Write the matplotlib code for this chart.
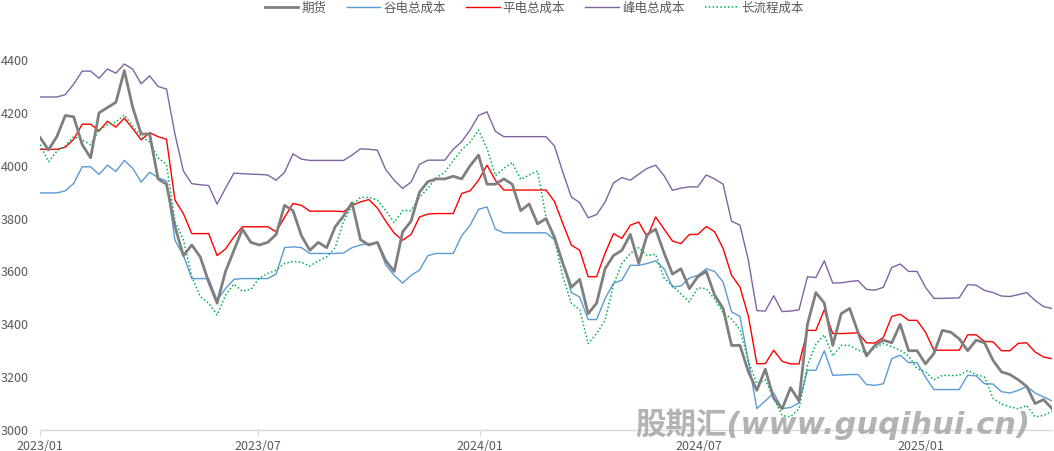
import matplotlib
matplotlib.use('Agg')
import matplotlib.pyplot as plt
import matplotlib.dates as mdates
import pandas as pd

plt.rcParams['font.family'] = ['Noto Sans CJK SC', 'DejaVu Sans']

# weekly samples
dates = pd.date_range('2023-01-01', periods=121, freq='7D')

futures = [4107, 4060, 4110, 4190, 4185, 4080, 4030, 4200, 4220, 4240,
           4360, 4220, 4120, 4120, 3950, 3930, 3770, 3660, 3700, 3655,
           3560, 3480, 3600, 3680, 3760, 3710, 3700, 3710, 3740, 3850,
           3830, 3735, 3680, 3710, 3690, 3769, 3810, 3860, 3720, 3700,
           3710, 3640, 3600, 3750, 3790, 3900, 3940, 3950, 3950, 3960,
           3950, 4000, 4040, 3930, 3930, 3950, 3930, 3830, 3855, 3780,
           3800, 3730, 3630, 3540, 3570, 3440, 3480, 3610, 3660, 3680,
           3740, 3630, 3740, 3760, 3670, 3590, 3610, 3535, 3580, 3600,
           3510, 3460, 3320, 3320, 3220, 3150, 3230, 3120, 3080, 3160,
           3110, 3400, 3520, 3480, 3320, 3440, 3460, 3370, 3280, 3320,
           3340, 3330, 3400, 3300, 3300, 3250, 3290, 3377, 3370, 3345,
           3300, 3340, 3330, 3264, 3220, 3210, 3190, 3165, 3100, 3115,
           3081]

valley_cost = [3897, 3897, 3897, 3905, 3933, 3996, 3996, 3967, 4002, 3978,
               4020, 3990, 3938, 3975, 3955, 3942, 3718, 3661, 3573, 3573,
               3573, 3491, 3535, 3570, 3573, 3573, 3573, 3573, 3590, 3690,
               3693, 3690, 3668, 3668, 3668, 3668, 3670, 3690, 3700, 3706,
               3706, 3625, 3585, 3556, 3585, 3605, 3660, 3668, 3668, 3668,
               3735, 3775, 3835, 3844, 3760, 3746, 3746, 3746, 3746, 3746,
               3746, 3720, 3635, 3520, 3503, 3418, 3418, 3497, 3555, 3567,
               3623, 3623, 3630, 3640, 3610, 3541, 3545, 3575, 3585, 3610,
               3600, 3560, 3447, 3430, 3260, 3081, 3110, 3140, 3081, 3085,
               3103, 3226, 3226, 3300, 3207, 3208, 3210, 3210, 3172, 3169,
               3175, 3270, 3283, 3255, 3255, 3200, 3153, 3153, 3153, 3153,
               3207, 3205, 3175, 3174, 3145, 3140, 3150, 3165, 3140, 3125,
               3110]

flat_cost = [4062, 4062, 4062, 4070, 4100, 4157, 4157, 4132, 4168, 4146,
             4180, 4140, 4098, 4125, 4110, 4100, 3870, 3819, 3743, 3743,
             3743, 3660, 3685, 3731, 3769, 3769, 3769, 3769, 3750, 3805,
             3857, 3850, 3828, 3828, 3828, 3828, 3826, 3850, 3863, 3872,
             3840, 3790, 3745, 3718, 3740, 3806, 3817, 3819, 3819, 3819,
             3895, 3905, 3945, 4002, 3945, 3908, 3908, 3908, 3908, 3908,
             3908, 3865, 3781, 3700, 3680, 3580, 3580, 3668, 3743, 3725,
             3775, 3787, 3730, 3806, 3760, 3715, 3705, 3740, 3740, 3770,
             3750, 3687, 3586, 3541, 3430, 3251, 3251, 3302, 3260, 3250,
             3250, 3377, 3377, 3455, 3365, 3365, 3366, 3368, 3330, 3329,
             3350, 3430, 3438, 3415, 3415, 3370, 3302, 3302, 3302, 3302,
             3360, 3360, 3335, 3334, 3300, 3300, 3328, 3330, 3295, 3276,
             3270]

peak_cost = [4260, 4260, 4260, 4269, 4309, 4358, 4358, 4331, 4366, 4350,
             4385, 4365, 4310, 4340, 4300, 4290, 4120, 3980, 3932, 3928,
             3925, 3855, 3915, 3972, 3970, 3968, 3967, 3965, 3945, 3975,
             4045, 4025, 4020, 4020, 4020, 4020, 4020, 4040, 4064, 4062,
             4059, 3985, 3945, 3914, 3938, 4005, 4021, 4021, 4021, 4062,
             4091, 4135, 4190, 4204, 4130, 4110, 4110, 4110, 4110, 4110,
             4110, 4075, 3975, 3882, 3860, 3803, 3815, 3862, 3935, 3955,
             3945, 3968, 3990, 4002, 3962, 3907, 3915, 3920, 3920, 3965,
             3950, 3930, 3790, 3775, 3642, 3452, 3450, 3508, 3448, 3450,
             3455, 3580, 3577, 3640, 3556, 3557, 3562, 3565, 3532, 3529,
             3540, 3615, 3628, 3600, 3600, 3540, 3498, 3498, 3499, 3500,
             3550, 3548, 3528, 3520, 3507, 3505, 3512, 3520, 3490, 3467,
             3460]

long_process = [4080, 4015, 4055, 4075, 4110, 4097, 4080, 4135, 4155, 4165,
                4192, 4150, 4110, 4090, 4030, 4005, 3790, 3720, 3580, 3505,
                3480, 3435, 3510, 3552, 3525, 3532, 3575, 3592, 3605, 3630,
                3638, 3635, 3620, 3640, 3655, 3690, 3790, 3850, 3880, 3880,
                3870, 3830, 3785, 3830, 3830, 3880, 3915, 3955, 3975, 4020,
                4060, 4090, 4135, 4065, 3962, 3990, 4012, 3948, 3965, 3980,
                3805, 3720, 3580, 3480, 3455, 3327, 3365, 3415, 3550, 3630,
                3668, 3690, 3660, 3665, 3575, 3545, 3515, 3485, 3538, 3535,
                3495, 3445, 3420, 3380, 3260, 3175, 3190, 3120, 3055, 3050,
                3080, 3245, 3325, 3360, 3280, 3320, 3320, 3302, 3292, 3310,
                3327, 3315, 3302, 3280, 3232, 3220, 3190, 3207, 3206, 3207,
                3225, 3210, 3200, 3120, 3098, 3088, 3080, 3093, 3050, 3055,
                3070]

labels = ['期货', '谷电总成本', '平电总成本', '峰电总成本', '长流程成本']
xticks = ['2023-01-01', '2023-07-01', '2024-01-01', '2024-07-01', '2025-01-01']

TXT = '#595959'

fig = plt.figure(figsize=(10.54, 4.51), dpi=100)
ax = fig.add_axes([40 / 1054, 21 / 451, 1012 / 1054, 370 / 451])

ax.plot(dates, futures, color='#7F7F7F', lw=2.0, label=labels[0], zorder=5)
ax.plot(dates, valley_cost, color='#5B9BD5', lw=1.0, label=labels[1], zorder=3)
ax.plot(dates, flat_cost, color='#FF0000', lw=1.0, label=labels[2], zorder=3)
ax.plot(dates, peak_cost, color='#8064A2', lw=1.0, label=labels[3], zorder=3)
ax.plot(dates, long_process, color='#00B050', lw=1.1, ls=(0, (1, 1.5)),
        label=labels[4], zorder=4)

ax.set_xlim(dates[0], dates[-1])
ax.set_ylim(3000, 4400)
ax.set_yticks(range(3000, 4401, 200))
ax.set_xticks(pd.to_datetime(xticks))
ax.xaxis.set_major_formatter(mdates.DateFormatter('%Y/%m'))

for s in ['top', 'right', 'left']:
    ax.spines[s].set_visible(False)
ax.spines['bottom'].set_color('#D9D9D9')
ax.spines['bottom'].set_linewidth(1.0)
ax.tick_params(axis='y', length=0, pad=8, labelsize=9, labelcolor=TXT)
ax.tick_params(axis='x', length=4, color='#D9D9D9', pad=3, labelsize=9, labelcolor=TXT)

leg = fig.legend(loc='center', bbox_to_anchor=(0.507, 0.982), ncol=5, frameon=False,
                 fontsize=9, handlelength=2.7, handletextpad=0.25, columnspacing=1.6)
for t in leg.get_texts():
    t.set_color(TXT)

# watermark
fig.text(0.79, 0.06, '股期汇(www.guqihui.cn)', fontsize=22, fontweight='bold',
         style='italic', color='#A6A6A6', alpha=0.85, ha='center', va='center',
         family=['DejaVu Sans', 'Noto Sans CJK SC'], zorder=10)

fig.savefig('out.png', dpi=100)
